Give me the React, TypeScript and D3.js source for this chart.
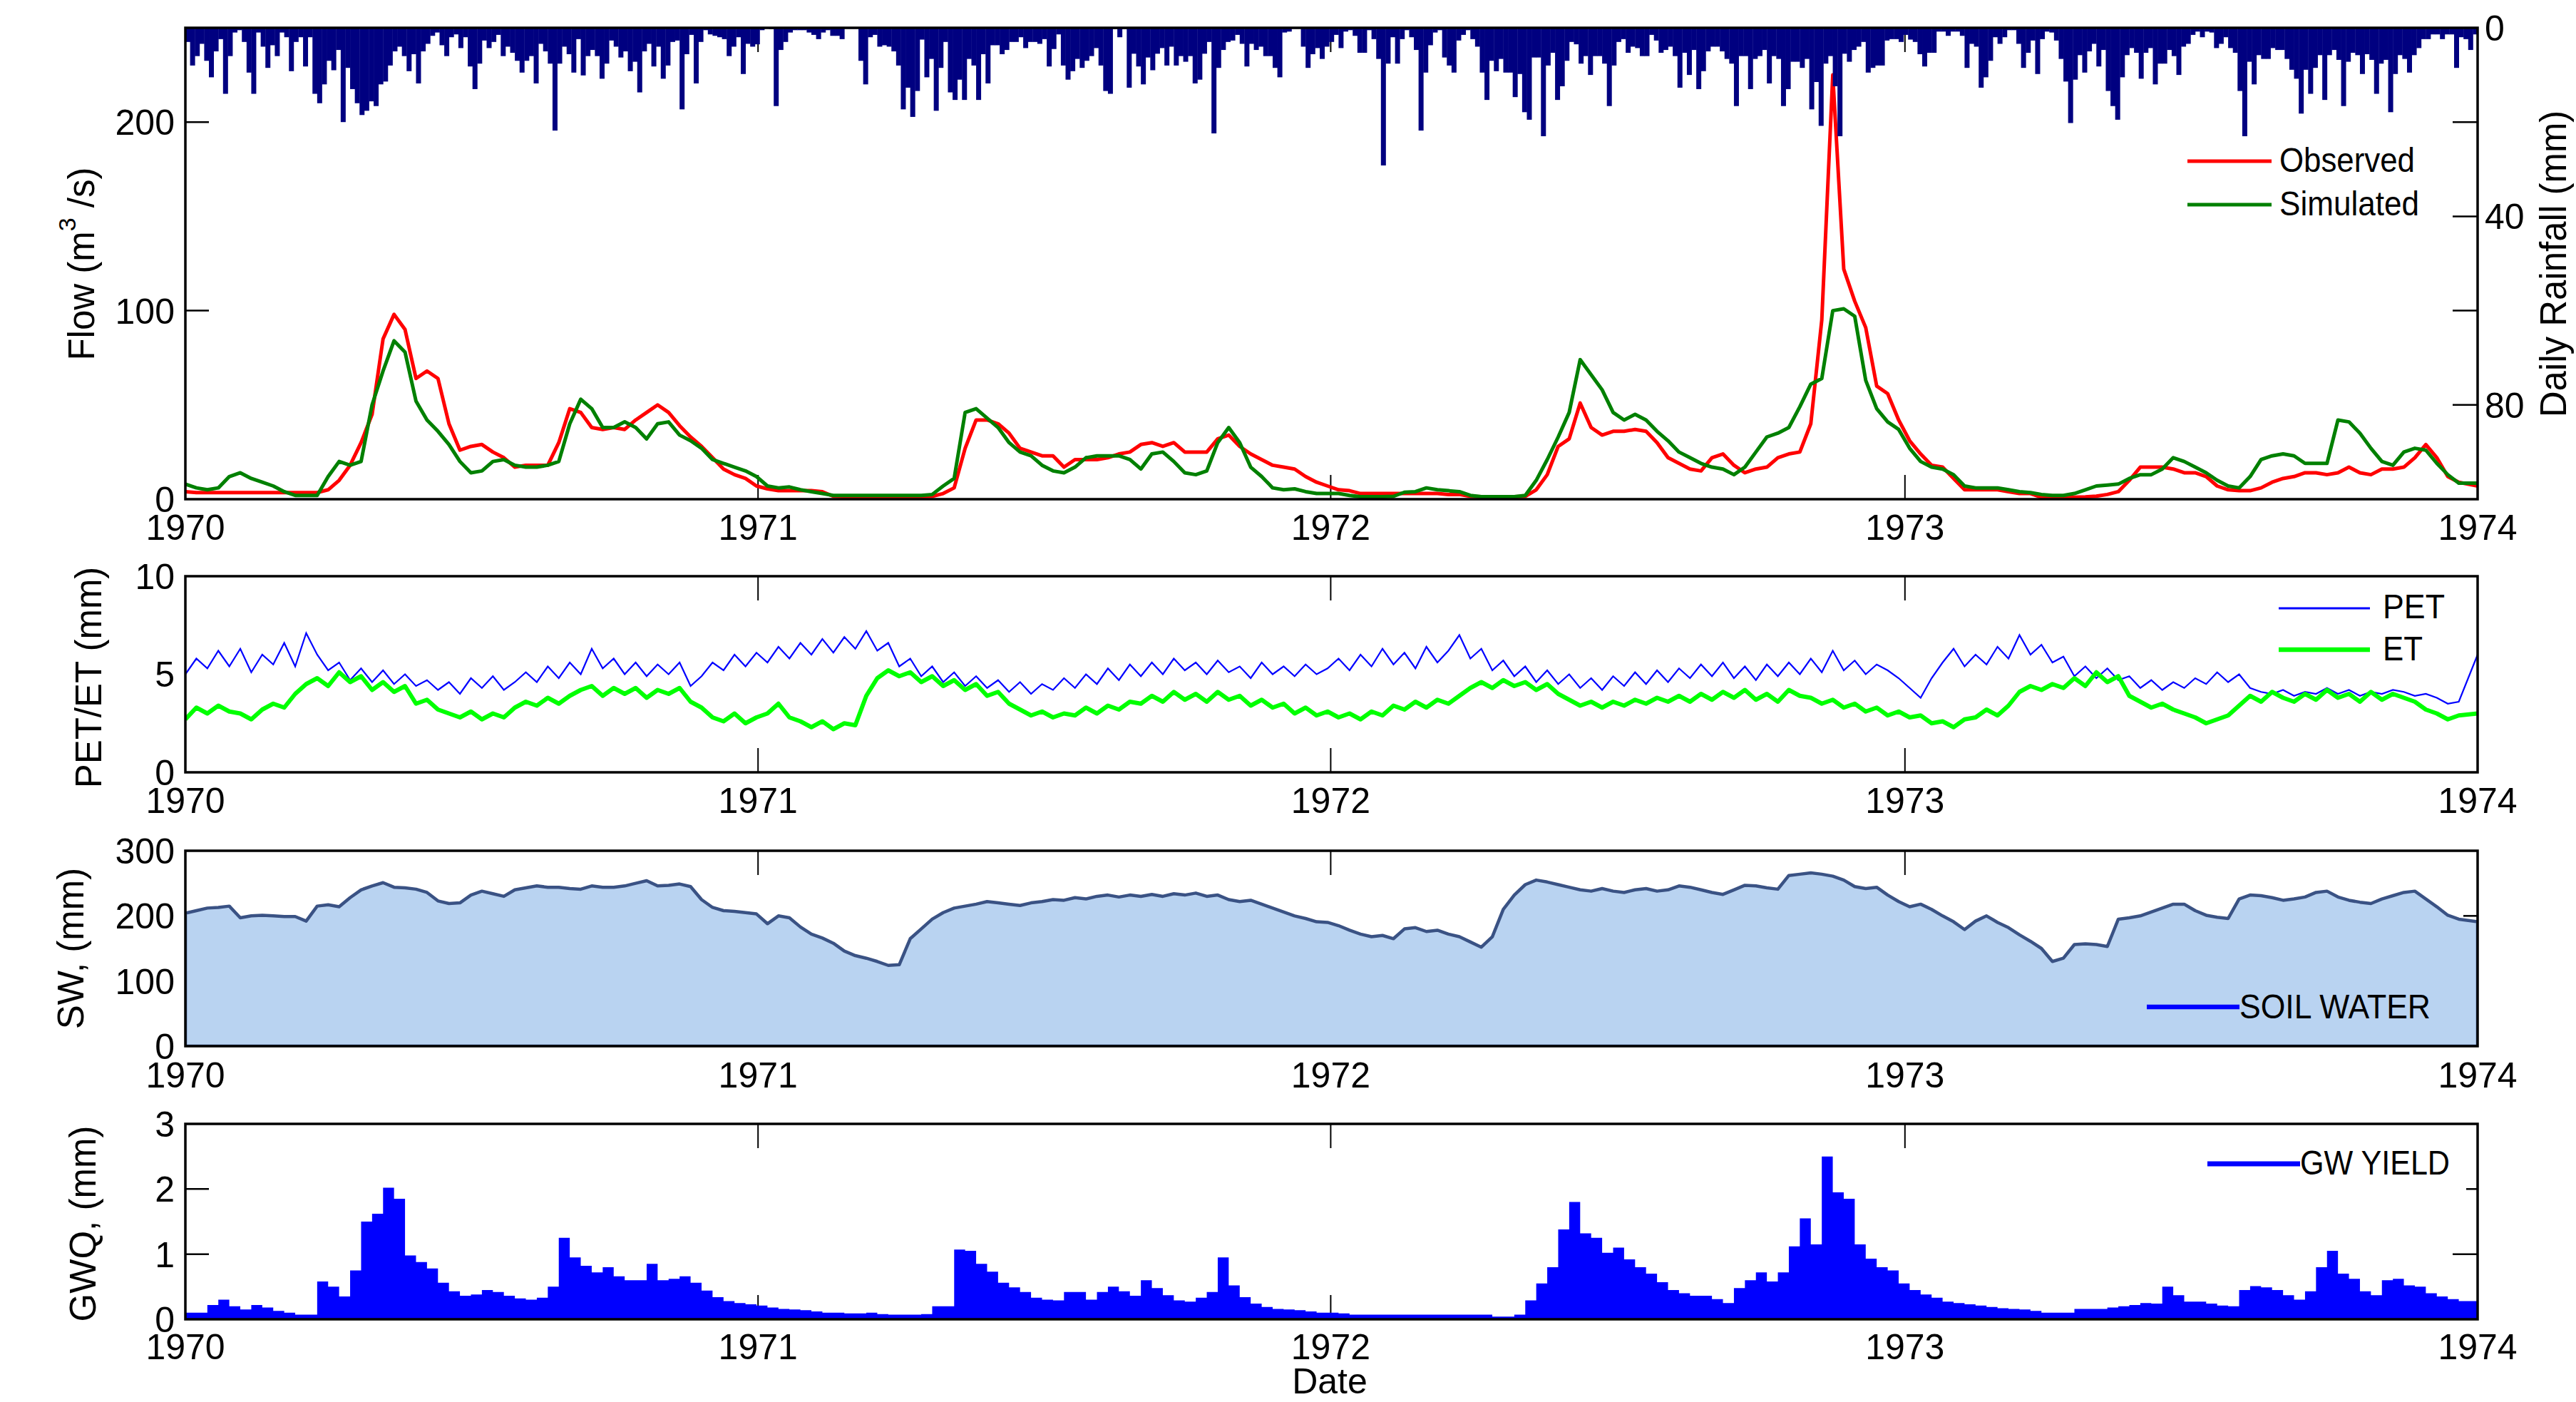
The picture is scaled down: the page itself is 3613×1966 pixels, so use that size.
import * as d3 from "d3";

// weekly samples starting 1 Jan 1970 (last sample pinned to 1 Jan 1974)
const observedFlow = [
  4, 3.5, 3.5, 3.5, 3.5, 3.5, 3.5, 3.5, 3.5, 3.5,
  3.5, 3.5, 3.5, 5, 10, 18, 30, 45, 85, 98,
  90, 64, 68, 64, 40, 26, 28, 29, 25, 22,
  17, 18, 18, 18, 30, 48, 46, 38, 37, 38,
  37, 42, 46, 50, 46, 39, 33, 28, 22, 16,
  13, 11, 7, 5.5, 4.5, 4.5, 4.5, 4.5, 4, 1.5,
  1.3, 1.3, 1.3, 1.3, 1.3, 1.3, 1.3, 1.3, 1.5, 3,
  6, 27, 42, 42, 40, 35, 27, 25, 23, 23,
  17, 21, 21, 21, 22, 24, 25, 29, 30, 28,
  30, 25, 25, 25, 32, 34, 28, 24, 21, 18,
  17, 16, 12, 9, 7, 5, 4.5, 3, 3, 3,
  3, 3, 3, 3, 3, 2.5, 2.5, 1.5, 1.3, 1.3,
  1.3, 1.3, 1.5, 5, 13, 28, 32, 51, 38, 34,
  36, 36, 37, 36, 30, 22, 19, 16, 15, 22,
  24, 18, 14, 16, 17, 22, 24, 25, 40, 95,
  225, 122, 105, 91, 60, 56, 42, 31, 24, 18,
  17, 11, 5, 5, 5, 5, 4, 3, 3, 1,
  1, 1, 1, 1.2, 1.6, 2.5, 4, 10, 17, 17,
  17, 16, 14, 14, 12, 7, 5, 4.5, 4.5, 6,
  9, 11, 12, 14, 14, 13, 14, 17, 14, 13,
  16, 16, 17, 22, 29, 22, 12, 9, 7,
];

const simulatedFlow = [
  8, 6, 5, 6, 12, 14, 11, 9, 7, 4,
  2, 2, 2, 12, 20, 18, 20, 50, 68, 84,
  78, 52, 42, 36, 29, 20, 14, 15, 20, 21,
  18, 17, 17, 18, 20, 40, 53, 48, 38, 38,
  41, 38, 32, 40, 41, 34, 31, 27, 21, 19,
  17, 15, 12, 7, 6, 6.5, 5, 4, 3, 2,
  2, 2, 2, 2, 2, 2, 2, 2, 2.5, 7,
  11, 46, 48, 43, 38, 30, 25, 23, 18, 15,
  14, 17, 22, 23, 23, 23, 21, 16, 24, 25,
  20, 14, 13, 15, 30, 38, 30, 17, 12, 6,
  5, 5.5, 4, 3, 3, 3, 2, 1.3, 1.3, 1.3,
  1.5, 3.7, 4, 6, 5, 4.5, 4, 2, 1.3, 1.3,
  1.3, 1.3, 2, 10, 21, 33, 46, 74, 66, 58,
  46, 42, 45, 42, 36, 31, 25, 22, 19, 17,
  16, 13, 17, 25, 33, 35, 38, 49, 61, 64,
  100, 101, 97, 63, 48, 41, 37, 27, 20, 17,
  16, 13, 7, 6, 6, 6, 5, 4, 3.5, 2.5,
  2, 2, 3, 5, 7, 7.5, 8, 11, 13, 13,
  16, 22, 20, 17, 14, 10, 7, 6, 12, 21,
  23, 24, 23, 19, 19, 19, 42, 41, 35, 27,
  20, 18, 25, 27, 26, 19, 13, 8.5, 8.5,
];

const pet = [
  5.0, 5.8, 5.3, 6.2, 5.4, 6.3, 5.1, 6.0, 5.5, 6.6,
  5.4, 7.1, 6.0, 5.2, 5.6, 4.7, 5.3, 4.6, 5.2, 4.5,
  5.0, 4.4, 4.7, 4.2, 4.6, 4.0, 4.8, 4.3, 4.9, 4.2,
  4.6, 5.1, 4.6, 5.4, 4.8, 5.6, 5.0, 6.3, 5.3, 5.8,
  5.0, 5.6, 4.9, 5.5, 5.0, 5.6, 4.4, 4.9, 5.6, 5.2,
  6.0, 5.4, 6.1, 5.6, 6.4, 5.8, 6.6, 6.0, 6.8, 6.1,
  6.9, 6.3, 7.2, 6.2, 6.6, 5.4, 5.8, 4.9, 5.4, 4.6,
  5.1, 4.4, 4.9, 4.3, 4.7, 4.1, 4.6, 4.0, 4.5, 4.2,
  4.8, 4.3, 5.0, 4.5, 5.3, 4.7, 5.5, 4.9, 5.6, 5.0,
  5.8, 5.2, 5.6, 5.0, 5.7, 5.1, 5.4, 4.8, 5.6, 5.0,
  5.4, 4.9, 5.5, 5.0, 5.3, 5.8, 5.2, 6.0, 5.4, 6.3,
  5.5, 6.1, 5.3, 6.4, 5.6, 6.2, 7.0, 5.8, 6.3, 5.2,
  5.7, 4.9, 5.4, 4.6, 5.2, 4.5, 5.0, 4.3, 4.8, 4.2,
  4.9, 4.4, 5.1, 4.5, 5.2, 4.6, 5.3, 4.8, 5.5, 4.9,
  5.6, 4.8, 5.4, 4.7, 5.5, 4.9, 5.6, 5.0, 5.8, 5.1,
  6.2, 5.2, 5.7, 5.0, 5.5, 5.2, 4.8, 4.3, 3.8, 4.8,
  5.6, 6.3, 5.4, 6.0, 5.5, 6.4, 5.8, 7.0, 6.0, 6.5,
  5.6, 5.9, 4.9, 5.4, 4.8, 5.3, 4.7, 4.9, 4.3, 4.7,
  4.2, 4.6, 4.3, 4.8, 4.5, 5.1, 4.6, 5.0, 4.3, 4.1,
  4.0, 4.2, 3.9, 4.1, 4.0, 4.3, 4.0, 4.2, 3.9, 4.1,
  4.0, 4.2, 4.1, 3.9, 4.0, 3.8, 3.5, 3.6, 6.0,
];

const et = [
  2.7, 3.3, 3.0, 3.4, 3.1, 3.0, 2.7, 3.2, 3.5, 3.3,
  4.0, 4.5, 4.8, 4.4, 5.1, 4.6, 4.9, 4.2, 4.6, 4.1,
  4.4, 3.5, 3.7, 3.2, 3.0, 2.8, 3.1, 2.7, 3.0, 2.8,
  3.3, 3.6, 3.4, 3.8, 3.5, 3.9, 4.2, 4.4, 3.9, 4.3,
  4.0, 4.3, 3.8, 4.2, 4.0, 4.3, 3.6, 3.3, 2.8, 2.6,
  3.0, 2.5, 2.8, 3.0, 3.5, 2.8, 2.6, 2.3, 2.6, 2.2,
  2.5, 2.4, 3.9, 4.8, 5.2, 4.9, 5.1, 4.6, 4.9, 4.4,
  4.7, 4.2, 4.5, 3.9, 4.1, 3.5, 3.2, 2.9, 3.1, 2.8,
  3.0, 2.9, 3.3, 3.0, 3.4, 3.2, 3.6, 3.5, 3.9, 3.6,
  4.1, 3.7, 4.0, 3.6, 4.1, 3.7, 3.9, 3.4, 3.7, 3.3,
  3.5, 3.0, 3.3, 2.9, 3.1, 2.8, 3.0, 2.7, 3.1, 2.9,
  3.4, 3.2, 3.6, 3.3, 3.7, 3.5, 3.9, 4.3, 4.6, 4.3,
  4.7, 4.4, 4.6, 4.2, 4.5, 4.0, 3.7, 3.4, 3.6, 3.3,
  3.6, 3.4, 3.7, 3.5, 3.8, 3.6, 3.9, 3.6, 4.0, 3.7,
  4.1, 3.8, 4.2, 3.7, 4.0, 3.6, 4.2, 3.9, 3.8, 3.5,
  3.7, 3.3, 3.5, 3.1, 3.3, 2.9, 3.1, 2.8, 2.9, 2.5,
  2.6, 2.3, 2.7, 2.8, 3.2, 2.9, 3.4, 4.1, 4.4, 4.2,
  4.5, 4.3, 4.8, 4.4, 5.1, 4.6, 4.9, 3.9, 3.6, 3.3,
  3.5, 3.2, 3.0, 2.8, 2.5, 2.7, 2.9, 3.4, 3.9, 3.6,
  4.1, 3.8, 3.6, 4.0, 3.7, 4.2, 3.8, 4.0, 3.6, 4.1,
  3.7, 4.0, 3.8, 3.6, 3.2, 3.0, 2.7, 2.9, 3.0,
];

const soilWater = [
  204, 208, 212, 213, 215, 197, 200, 201, 200, 199,
  199, 192, 215, 217, 214, 228, 240, 246, 251, 244,
  243, 241, 236, 223, 219, 220, 232, 238, 234, 230,
  240, 243, 246, 244, 244, 242, 241, 246, 244, 244,
  246, 250, 254, 246, 247, 249, 245, 225, 213, 208,
  207, 205, 203, 188, 200, 197, 183, 172, 166, 158,
  146, 139, 135, 130, 124, 125, 165, 180, 195, 205,
  212, 215, 218, 222, 220, 218, 216, 220, 222, 225,
  224, 228, 226, 230, 232, 229, 232, 230, 233, 230,
  234, 232, 235, 230, 232, 225, 222, 224, 218, 212,
  206, 200, 196, 191, 190, 185, 178, 172, 168, 170,
  165, 180, 182, 176, 178, 172, 168, 160, 152, 168,
  210, 232, 248, 255, 252, 248, 244, 240, 238, 242,
  238, 236, 240, 242, 238, 240, 246, 244, 240, 236,
  233, 240, 247, 246, 243, 241, 262, 264, 266, 264,
  261, 255, 245, 242, 244, 232, 222, 214, 218, 210,
  200, 191, 179, 192, 200, 190, 182, 171, 161, 150,
  130, 135, 156, 157, 156, 153, 195, 197, 200, 206,
  212, 218, 218, 208, 201, 198, 196, 226, 232, 231,
  228, 224, 226, 229, 236, 238, 229, 224, 221, 219,
  226, 231, 236, 238, 226, 214, 201, 195, 191,
];

const gwYield = [
  0.1, 0.1, 0.22, 0.3, 0.2, 0.15, 0.22, 0.18, 0.13, 0.1,
  0.07, 0.07, 0.58, 0.5, 0.35, 0.75, 1.5, 1.62, 2.02, 1.85,
  0.98, 0.88, 0.78, 0.56, 0.43, 0.36, 0.38, 0.45, 0.42, 0.36,
  0.32, 0.3, 0.33, 0.5, 1.25, 0.95, 0.82, 0.72, 0.8, 0.66,
  0.6, 0.6, 0.85, 0.6, 0.62, 0.66, 0.56, 0.44, 0.34, 0.28,
  0.25, 0.23, 0.21, 0.18, 0.16, 0.15, 0.14, 0.12, 0.1, 0.1,
  0.09, 0.09, 0.1, 0.08, 0.07, 0.07, 0.07, 0.08, 0.2, 0.2,
  1.07, 1.05, 0.85, 0.73, 0.56, 0.49, 0.42, 0.33, 0.3, 0.29,
  0.42, 0.42, 0.3, 0.42, 0.5, 0.43, 0.36, 0.6, 0.48, 0.37,
  0.29, 0.27, 0.33, 0.42, 0.95, 0.52, 0.34, 0.24, 0.19, 0.16,
  0.15, 0.14, 0.12, 0.1, 0.1, 0.09, 0.07, 0.07, 0.07, 0.07,
  0.07, 0.07, 0.07, 0.07, 0.07, 0.07, 0.07, 0.07, 0.07, 0.04,
  0.04, 0.07, 0.29, 0.55, 0.8, 1.38, 1.8, 1.32, 1.25, 1.02,
  1.1, 0.92, 0.8, 0.7, 0.57, 0.45, 0.4, 0.36, 0.36, 0.31,
  0.25, 0.48, 0.6, 0.72, 0.58, 0.72, 1.12, 1.55, 1.15, 2.5,
  1.95, 1.85, 1.15, 0.93, 0.8, 0.75, 0.55, 0.45, 0.38, 0.33,
  0.27, 0.25, 0.23, 0.21, 0.19, 0.17, 0.16, 0.15, 0.13, 0.1,
  0.1, 0.1, 0.16, 0.16, 0.16, 0.18, 0.2, 0.22, 0.25, 0.24,
  0.5, 0.37, 0.27, 0.27, 0.24, 0.21, 0.2, 0.45, 0.51, 0.49,
  0.45, 0.37, 0.3, 0.43, 0.8, 1.05, 0.7, 0.62, 0.43, 0.37,
  0.6, 0.62, 0.52, 0.5, 0.4, 0.35, 0.31, 0.28, 0.25,
];

// rainfall, 3-day bins starting 1 Jan 1970 (mm)
const rainfall = [
  3, 8, 6, 3.4, 7, 10.5, 5, 2.4, 14, 6,
  1, 0.5, 3, 9.5, 14, 1, 4, 8.5, 3.7, 6,
  1, 2, 9.2, 3, 2, 8.2, 2, 14, 16, 12,
  7, 9, 4.7, 20, 8.5, 13, 16, 18.5, 17.6, 15.6,
  16.6, 12, 11.4, 8, 5, 4, 6, 9.2, 5.6, 11.8,
  5, 3.4, 1.7, 1, 3.7, 6, 2, 1.4, 4.3, 2,
  8.2, 13, 7.6, 2.7, 4.3, 3, 1.5, 6, 4, 5.3,
  7, 9.5, 7, 6, 11.8, 3.4, 5, 7.6, 21.8, 7.6,
  4, 5.6, 9.5, 2.4, 10.1, 6, 4.7, 6, 10.8, 7.6,
  2.7, 4, 6.3, 5, 9.2, 7.2, 13.7, 5, 3.4, 8.2,
  4, 10.8, 8, 3, 2.7, 17.3, 5.6, 1.5, 11.8, 3,
  0.5, 1.4, 1.7, 2, 2.4, 6, 4, 2, 9.8, 3.4,
  4, 3.5,
  0.5, 0.2, 0.3, 16.6, 4.7, 3, 1, 0.5, 0.5, 0.5,
  1, 1.5, 2.4, 1, 0.5, 1.7, 1.7, 2.4, 0.2, 0.2,
  0.2, 7, 12, 2, 1.5, 4, 3.7, 4, 5, 8,
  17.3, 12.7, 18.9, 13.4, 2.5, 10.5, 6.6, 17.6, 8.5, 3,
  13.7, 15.3, 11, 15.3, 6.6, 8, 15.3, 5.6, 11.8, 3.7,
  3.7, 5.6, 4.7, 3, 3, 2, 4.3, 3, 3, 3.4,
  2.4, 8.2, 4.5, 1.4, 8, 11, 9.2, 6.6, 8.5, 7,
  6, 4.3, 8, 13.4, 14, 0.3, 2, 0.3, 12.7, 5.5,
  8.2, 12, 6.3, 9, 5.5, 4.3, 8, 4, 8, 6,
  7.2, 6, 11.8, 11, 5.5, 3, 22.4, 8.5, 4.7, 3,
  2.7, 1.5, 3.4, 8.2, 3.4, 4.7, 4, 6, 6, 8.5,
  10.5, 1, 0.8, 0.2, 0.2, 4, 8.5, 5.6, 4.3, 6.6,
  4, 3,
  1.5, 4.3, 0.8, 0.5, 1.7, 5.3, 5.3, 0.5, 2.4, 6.6,
  29.2, 7.6, 2, 7.6, 2.4, 0.5, 2, 4.7, 21.8, 9.5,
  3.7, 1, 0.5, 6.3, 8, 9.5, 2.7, 1.5, 0.5, 2.4,
  4, 9.5, 15.3, 7, 9.2, 6.6, 9.5, 9.5, 14.7, 9.8,
  17.9, 19.5, 6.3, 6.3, 23, 8, 5.3, 15.3, 12.4, 7,
  3, 3.5, 7.6, 6, 10, 6, 6, 7.6, 16.6, 8,
  3, 2.4, 5.3, 4, 4.3, 6, 6, 1.5, 2.7, 5.3,
  4.7, 4, 6, 12.7, 5.3, 10, 4.7, 13, 9.2, 5,
  4, 4, 5, 6.6, 7.6, 16.6, 6, 6, 13, 6.6,
  6, 4.7, 11.8, 6, 6.6, 16.6, 13, 7.2, 7.2, 8.5,
  6.6, 17.3, 11.5, 20.8, 7.6, 6, 12.4, 23, 5.5, 7.2,
  4.7, 4, 3, 9.5, 8.5, 8, 8, 2.7, 2.4, 2.4,
  3, 1.5,
  2.5, 3, 5.6, 8.2, 5.3, 5.3, 0.8, 0.8, 1.7, 0.8,
  0.8, 1.7, 8.5, 3.4, 4, 12.7, 10.5, 7, 2, 3.4,
  2, 0.5, 0.5, 3.4, 8.5, 5.3, 2.7, 9.8, 2.4, 0.8,
  1, 2.7, 6.6, 11.4, 20.2, 11, 5.8, 9.5, 5, 3.4,
  8.2, 4.7, 13.4, 16.6, 19.5, 10.5, 5.8, 4.3, 5.3, 10.8,
  5.3, 4.3, 12, 7.6, 7.6, 4.7, 6, 10, 4, 3.4,
  1.5, 0.8, 2, 0.8, 1, 4.3, 3.4, 2, 4.3, 5.3,
  13.4, 23, 7.2, 12, 5.8, 6.6, 6.6, 4.3, 4.7, 4.7,
  6.6, 8.9, 10.8, 18.2, 8.9, 14, 8.5, 5.8, 15.3, 5.8,
  4.7, 6.8, 16.6, 7.2, 5.3, 5.8, 9.8, 5.6, 6.8, 14,
  7.6, 6.8, 17.9, 9.8, 5.8, 6.6, 9.5, 5.8, 4.3, 2.4,
  2.4, 1.4, 1.4, 2.4, 1.4, 1.4, 8.5, 2, 2.4, 4.7,
  1.4,
];

const yearTicks = [1970, 1971, 1972, 1973, 1974];
const flowTicks = [0, 100, 200];
const rainTicks = [0, 40, 80];
const petTicks = [0, 5, 10];
const swTicks = [0, 100, 200, 300];
const gwTicks = [0, 1, 2, 3];

const W = 3613;
const H = 1966;
const X0 = 260;
const X1 = 3475;
const FONT = "'Liberation Sans', Arial, Helvetica, sans-serif";
const DAY = 86400000;
const START = Date.UTC(1970, 0, 1);
const END = Date.UTC(1974, 0, 1);

const P1 = { top: 39, bottom: 700 };
const P2 = { top: 808, bottom: 1083 };
const P3 = { top: 1193, bottom: 1467 };
const P4 = { top: 1576, bottom: 1850 };

const x = d3.scaleUtc().domain([new Date(START), new Date(END)]).range([X0, X1]);
const flowY = d3.scaleLinear().domain([0, 250]).range([P1.bottom, P1.top]);
const rainY = d3.scaleLinear().domain([0, 100]).range([P1.top, P1.bottom]);
const petY = d3.scaleLinear().domain([0, 10]).range([P2.bottom, P2.top]);
const swY = d3.scaleLinear().domain([0, 300]).range([P3.bottom, P3.top]);
const gwY = d3.scaleLinear().domain([0, 3]).range([P4.bottom, P4.top]);

const weekDates = observedFlow.map(
  (_, i) => new Date(i === observedFlow.length - 1 ? END : START + i * 7 * DAY)
);
const years = yearTicks.map((y) => new Date(Date.UTC(y, 0, 1)));
const innerYears = years.slice(1, -1);

const weekLine = (vals: number[], y: d3.ScaleLinear<number, number>) =>
  d3
    .line<number>()
    .x((_, i) => x(weekDates[i]))
    .y((d) => y(d))(vals) ?? "";

const weekArea = (vals: number[], y: d3.ScaleLinear<number, number>, curve: d3.CurveFactory) =>
  d3
    .area<number>()
    .x((_, i) => x(weekDates[i]))
    .y0(y(0))
    .y1((d) => y(d))
    .curve(curve)(vals) ?? "";

function XTicks({ p }: { p: { top: number; bottom: number } }) {
  return (
    <g stroke="#000" strokeWidth={2}>
      {innerYears.map((d, i) => (
        <g key={i}>
          <line x1={x(d)} x2={x(d)} y1={p.bottom} y2={p.bottom - 34} />
          <line x1={x(d)} x2={x(d)} y1={p.top} y2={p.top + 34} />
        </g>
      ))}
    </g>
  );
}

function XLabels({ p, dy }: { p: { bottom: number }; dy: number }) {
  return (
    <g fontFamily={FONT} fontSize={50} textAnchor="middle" fill="#000">
      {years.map((d, i) => (
        <text key={i} x={x(d)} y={p.bottom + dy}>
          {yearTicks[i]}
        </text>
      ))}
    </g>
  );
}

function YLabels({ ticks, y, side }: { ticks: number[]; y: (v: number) => number; side: "l" | "r" }) {
  return (
    <g fontFamily={FONT} fontSize={50} textAnchor={side === "l" ? "end" : "start"} fill="#000">
      {ticks.map((t) => (
        <text key={t} x={side === "l" ? X0 - 15 : X1 + 10} y={y(t)} dy="0.358em">
          {t}
        </text>
      ))}
    </g>
  );
}

function Box({ p }: { p: { top: number; bottom: number } }) {
  return <rect x={X0} y={p.top} width={X1 - X0} height={p.bottom - p.top} fill="none" stroke="#000" strokeWidth={3.5} />;
}

function YTick({ y, side, len = 33 }: { y: number; side: "l" | "r"; len?: number }) {
  return side === "l" ? (
    <line x1={X0} x2={X0 + len} y1={y} y2={y} stroke="#000" strokeWidth={2.5} />
  ) : (
    <line x1={X1 - len} x2={X1} y1={y} y2={y} stroke="#000" strokeWidth={2.5} />
  );
}

function LegendText({ x0, y0, w, children }: { x0: number; y0: number; w: number; children: string }) {
  return (
    <text x={x0} y={y0} fontFamily={FONT} fontSize={48} textLength={w} lengthAdjust="spacingAndGlyphs" fill="#000">
      {children}
    </text>
  );
}

function YTitle({ cx, cy, children }: { cx: number; cy: number; children: any }) {
  return (
    <text transform={`translate(${cx},${cy}) rotate(-90)`} textAnchor="middle" fontFamily={FONT} fontSize={51} fill="#000">
      {children}
    </text>
  );
}

export default function App() {
  const clip = (id: string, p: { top: number; bottom: number }) => (
    <clipPath id={id}>
      <rect x={X0} y={p.top} width={X1 - X0} height={p.bottom - p.top} />
    </clipPath>
  );

  return (
    <svg
      width={W}
      height={H}
      viewBox={`0 0 ${W} ${H}`}
      style={{ position: "absolute", left: 0, top: 0, background: "#fff" }}
      xmlns="http://www.w3.org/2000/svg"
    >
      <defs>
        {clip("c1", P1)}
        {clip("c2", P2)}
        {clip("c3", P3)}
        {clip("c4", P4)}
      </defs>
      <rect width={W} height={H} fill="#fff" />

      {/* panel 1: flow + rainfall */}
      <XTicks p={P1} />
      {[100, 200].map((t) => (
        <g key={t}>
          <YTick y={flowY(t)} side="l" />
          <YTick y={flowY(t)} side="r" len={35} />
        </g>
      ))}
      {rainTicks.slice(1).map((t) => (
        <YTick key={t} y={rainY(t)} side="r" len={35} />
      ))}
      <g clipPath="url(#c1)">
        <path d={weekLine(observedFlow, flowY)} fill="none" stroke="#ff0000" strokeWidth={5} strokeLinejoin="round" />
        <path d={weekLine(simulatedFlow, flowY)} fill="none" stroke="#008000" strokeWidth={5} strokeLinejoin="round" />
        {rainfall.map((v, j) => {
          const a = x(new Date(START + 3 * j * DAY));
          const b = x(new Date(Math.min(START + 3 * (j + 1) * DAY, END)));
          return <rect key={j} x={a} y={P1.top} width={b - a + 0.4} height={rainY(v) - P1.top} fill="#000080" />;
        })}
      </g>
      <Box p={P1} />
      <YLabels ticks={flowTicks} y={flowY} side="l" />
      <YLabels ticks={rainTicks} y={rainY} side="r" />
      <XLabels p={P1} dy={57} />
      <line x1={3068} x2={3186} y1={226} y2={226} stroke="#ff0000" strokeWidth={5} />
      <LegendText x0={3197} y0={241} w={190}>Observed</LegendText>
      <line x1={3068} x2={3186} y1={287} y2={287} stroke="#008000" strokeWidth={5} />
      <LegendText x0={3197} y0={302} w={196}>Simulated</LegendText>
      <YTitle cx={132} cy={370}>
        Flow (m
        <tspan fontSize={34} dy={-26}>
          3
        </tspan>
        <tspan dy={26}> /s)</tspan>
      </YTitle>
      <text
        transform="translate(3599,370) rotate(-90)"
        textAnchor="middle"
        fontFamily={FONT}
        fontSize={51}
        fill="#000"
      >
        Daily Rainfall (mm)
      </text>

      {/* panel 2: PET / ET */}
      <XTicks p={P2} />
      <g clipPath="url(#c2)">
        <path d={weekLine(pet, petY)} fill="none" stroke="#0000ff" strokeWidth={2.2} />
        <path d={weekLine(et, petY)} fill="none" stroke="#00ff00" strokeWidth={6} strokeLinejoin="round" />
      </g>
      <Box p={P2} />
      <YLabels ticks={petTicks} y={petY} side="l" />
      <XLabels p={P2} dy={57} />
      <line x1={3196} x2={3324} y1={853} y2={853} stroke="#0000ff" strokeWidth={3} />
      <LegendText x0={3342} y0={867} w={87}>PET</LegendText>
      <line x1={3196} x2={3324} y1={911} y2={911} stroke="#00ff00" strokeWidth={6.5} />
      <LegendText x0={3342} y0={926} w={56}>ET</LegendText>
      <YTitle cx={142} cy={950}>PET/ET (mm)</YTitle>

      {/* panel 3: soil water */}
      <XTicks p={P3} />
      {[100, 200].map((t) => (
        <g key={t}>
          <YTick y={swY(t)} side="l" />
          <YTick y={swY(t)} side="r" len={20} />
        </g>
      ))}
      <g clipPath="url(#c3)">
        <path
          d={weekArea(soilWater, swY, d3.curveLinear)}
          fill="#b9d3f1"
          stroke="#3a5284"
          strokeWidth={4.5}
          strokeLinejoin="round"
        />
      </g>
      <Box p={P3} />
      <YLabels ticks={swTicks} y={swY} side="l" />
      <XLabels p={P3} dy={58} />
      <line x1={3011} x2={3141} y1={1412} y2={1412} stroke="#0000ff" strokeWidth={6.5} />
      <LegendText x0={3141} y0={1428} w={268}>SOIL WATER</LegendText>
      <YTitle cx={117} cy={1330}>SW, (mm)</YTitle>

      {/* panel 4: groundwater yield */}
      <XTicks p={P4} />
      {[1, 2].map((t) => (
        <YTick key={t} y={gwY(t)} side="l" />
      ))}
      <YTick y={gwY(1)} side="r" len={35} />
      <YTick y={gwY(2)} side="r" len={16} />
      <g clipPath="url(#c4)">
        <path d={weekArea(gwYield, gwY, d3.curveStepAfter)} fill="#0000ff" stroke="none" />
      </g>
      <Box p={P4} />
      <YLabels ticks={gwTicks} y={gwY} side="l" />
      <XLabels p={P4} dy={56} />
      <line x1={3096} x2={3226} y1={1632} y2={1632} stroke="#0000ff" strokeWidth={7} />
      <LegendText x0={3226} y0={1647} w={210}>GW YIELD</LegendText>
      <YTitle cx={134} cy={1716}>GWQ, (mm)</YTitle>

      <text x={1865} y={1954} textAnchor="middle" fontFamily={FONT} fontSize={50} fill="#000">
        Date
      </text>
    </svg>
  );
}
